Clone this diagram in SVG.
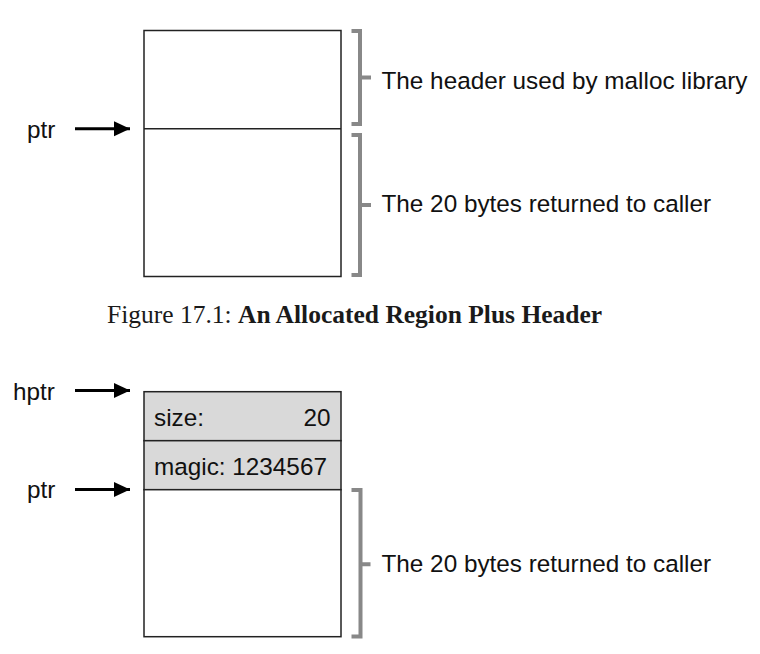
<svg xmlns="http://www.w3.org/2000/svg" width="760" height="654" viewBox="0 0 760 654">
<defs>
<marker id="ah" markerWidth="17" markerHeight="16" refX="16" refY="8" orient="auto" markerUnits="userSpaceOnUse">
<path d="M0,0.5 L16,8 L0,15.5 Z" fill="#000"/>
</marker>
<style>
.t{font-family:"Liberation Sans",Arial,sans-serif;font-size:24.3px;fill:#111}
.box{fill:#fff;stroke:#222;stroke-width:1.5}
.hdr{fill:#d9d9d9;stroke:#222;stroke-width:1.5}
.br{fill:none;stroke:#888;stroke-width:4;stroke-linecap:butt}
.ar{stroke:#000;stroke-width:3;fill:none}
.cap{font-family:"Liberation Serif","Times New Roman",serif;font-size:25.5px;fill:#1a1a1a}
</style>
</defs>
<rect width="760" height="654" fill="#fff"/>

<g id="fig1-region">
<rect class="box" x="144" y="30.5" width="197" height="246"/>
<line x1="144" y1="128.7" x2="341" y2="128.7" stroke="#222" stroke-width="1.5"/>
</g>
<g id="fig1-header-brace">
<path class="br" d="M351.5,31 H360 V124 H351.5 M360,77.5 H371"/>
<text class="t" x="381.5" y="88.5">The header used by malloc library</text>
</g>
<g id="fig1-bytes-brace">
<path class="br" d="M351.5,135 H360 V275 H351.5 M360,205 H371"/>
<text class="t" x="381.5" y="212">The 20 bytes returned to caller</text>
</g>
<g id="fig1-ptr">
<text class="t" x="27" y="138">ptr</text>
</g>

<text class="cap" x="107" y="323"><tspan>Figure 17.1: </tspan><tspan font-weight="bold">An Allocated Region Plus Header</tspan></text>

<g id="fig2-size">
<rect class="hdr" x="144" y="391.7" width="197" height="49"/>
<text class="t" x="154" y="426">size:</text>
<text class="t" x="330.5" y="426" text-anchor="end">20</text>
</g>
<g id="fig2-magic">
<rect class="hdr" x="144" y="440.7" width="197" height="49"/>
<text class="t" x="154" y="475">magic: 1234567</text>
</g>
<g id="fig2-region">
<rect class="box" x="144" y="489.7" width="197" height="147"/>
</g>
<g id="fig2-bytes-brace">
<path class="br" d="M351.5,490 H360.5 V636.5 H351.5 M360.5,564.3 H370.5"/>
<text class="t" x="381.5" y="572">The 20 bytes returned to caller</text>
</g>
<g id="fig2-hptr">
<text class="t" x="13" y="400">hptr</text>
</g>
<g id="fig2-ptr">
<text class="t" x="27" y="498">ptr</text>
</g>

<g id="connectors">
<line class="ar" x1="75" y1="128.7" x2="130" y2="128.7" marker-end="url(#ah)"/>
<line class="ar" x1="75" y1="390.5" x2="130" y2="390.5" marker-end="url(#ah)"/>
<line class="ar" x1="75" y1="489.5" x2="130" y2="489.5" marker-end="url(#ah)"/>
</g>
</svg>
